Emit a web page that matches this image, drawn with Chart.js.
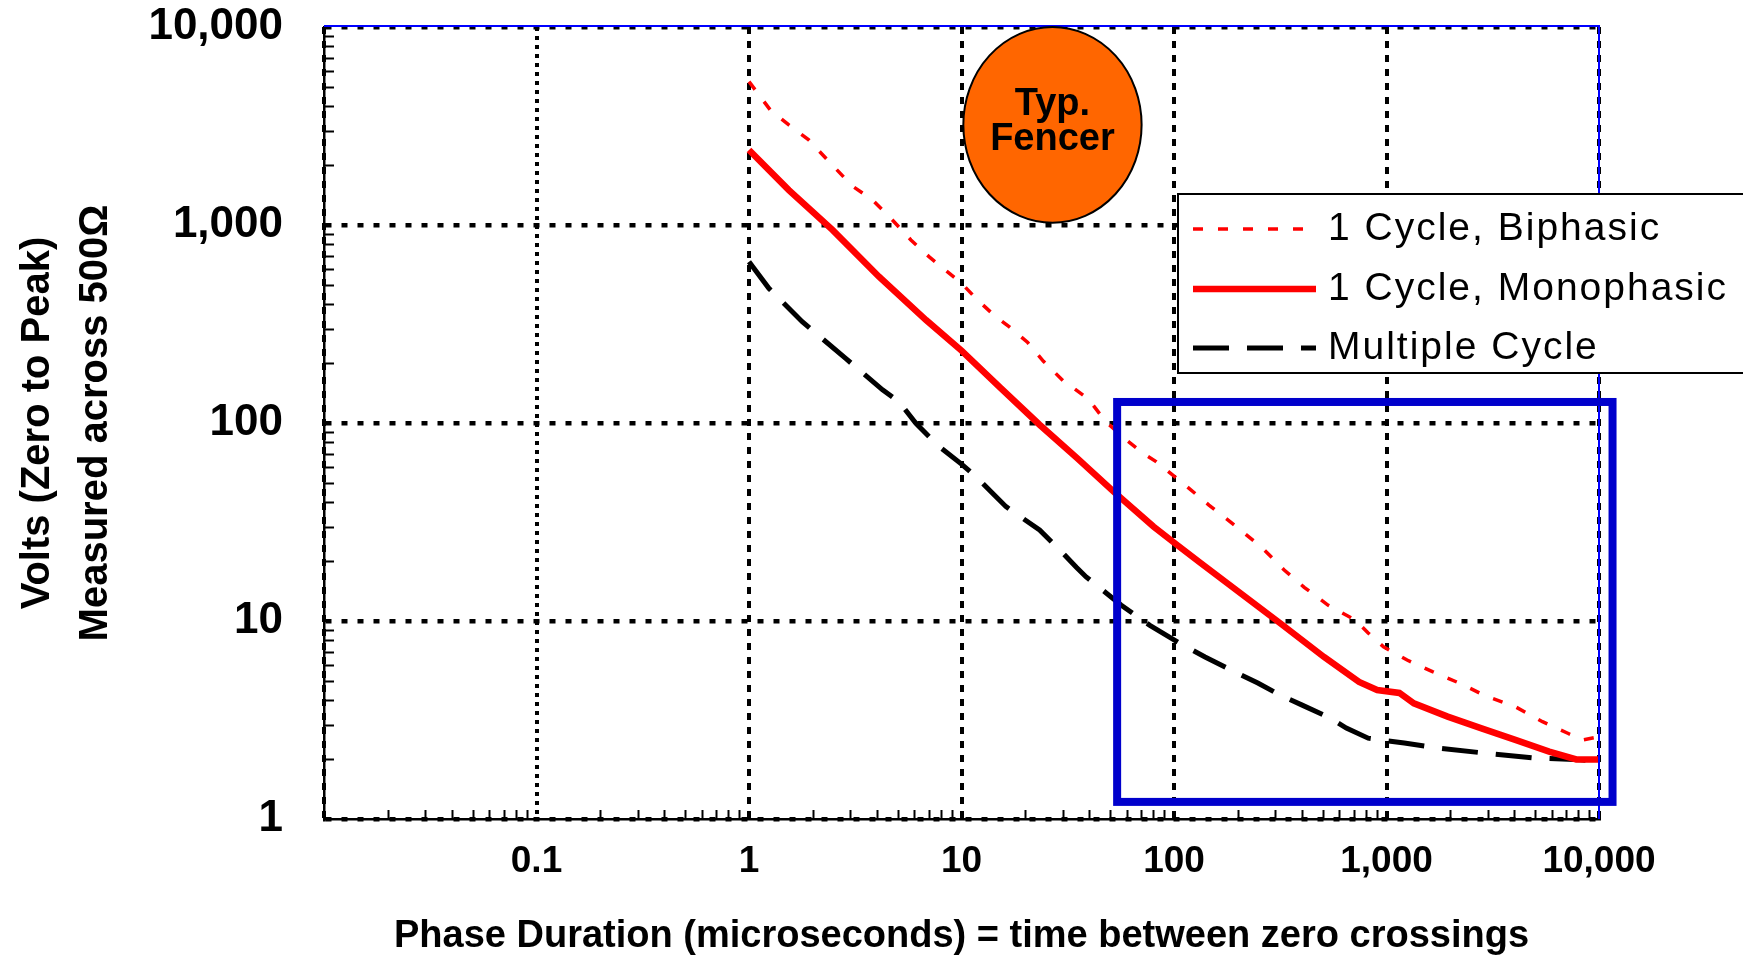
<!DOCTYPE html>
<html>
<head>
<meta charset="utf-8">
<script src="https://cdn.jsdelivr.net/npm/chart.js@4/dist/chart.umd.min.js"></script>
<style>
  html, body { margin: 0; padding: 0; background: #fff; }
  canvas { display: block; }
</style>
</head>
<body>
<canvas id="c" width="1743" height="959"></canvas>
<script>
// ---------------- data ----------------
const seriesLabels = ['1 Cycle, Biphasic', '1 Cycle, Monophasic', 'Multiple Cycle'];

const biphasicX = [1, 1.26, 1.54, 1.91, 2.38, 3.07, 3.81, 4.73, 5.78, 7.05, 8.77, 10, 11.9, 14.5, 16.8, 20.5, 24.3, 30, 39.3, 48, 59.7, 72, 82, 110, 146, 200, 260, 330, 410, 532, 713, 820, 968, 1250, 1645, 2208, 2906, 4040, 5420, 7130, 8410, 10000];
const biphasicY = [5300, 3810, 3200, 2690, 2090, 1570, 1340, 1060, 840, 690, 570, 508, 418, 344, 306, 255, 205, 164, 133, 101, 82, 70, 64, 49.7, 38.5, 29.5, 23.4, 18.1, 14.8, 12.0, 10.1, 8.7, 7.41, 6.35, 5.55, 4.85, 4.2, 3.69, 3.1, 2.71, 2.51, 2.6];

const monoX = [1, 1.54, 2.47, 4.09, 6.81, 10, 15.3, 23.3, 35, 52, 80, 102, 132, 177, 315, 508, 743, 904, 1150, 1345, 1940, 2800, 4040, 5830, 7820, 10000];
const monoY = [2390, 1500, 944, 548, 331, 232, 150, 98, 66.5, 45, 30, 24.5, 19.8, 15.6, 9.77, 6.58, 4.92, 4.48, 4.33, 3.84, 3.29, 2.87, 2.51, 2.19, 2.0, 2.0];

const multiX = [1, 1.24, 1.78, 2.85, 4.25, 5.08, 6.1, 7.86, 10, 11.7, 14, 16.2, 19.4, 23.3, 30, 34.7, 38.6, 47, 56.3, 77, 106, 140, 185, 248, 315, 401, 532, 647, 820, 1213, 1775, 3155, 5080, 8190, 10000];
const multiY = [653, 479, 325, 212, 147, 128, 99.6, 75.9, 62, 53.5, 44.2, 37.8, 33, 28.8, 22, 18.7, 16.7, 14.1, 12.05, 9.5, 7.74, 6.58, 5.66, 4.86, 4.23, 3.76, 3.27, 2.88, 2.56, 2.42, 2.28, 2.13, 2.03, 1.99, 1.96];

const xTickValues = [0.1, 1, 10, 100, 1000, 10000];
const xTickLabels = ['0.1', '1', '10', '100', '1,000', '10,000'];
const yTickValues = [1, 10, 100, 1000, 10000];
const yTickLabels = ['1', '10', '100', '1,000', '10,000'];

const xTitle = 'Phase Duration (microseconds) = time between zero crossings';
const yTitle = ['Volts (Zero to Peak)', 'Measured across 500Ω'];

const fencerText = ['Typ.', 'Fencer'];
// annotation extents in data units
const fencerX = [10.2, 70.4];
const fencerY = [1027, 10000];
const boxX = [54, 11580];
const boxY = [1.22, 127.7];

// ---------------- helpers ----------------
const FONT = "'Liberation Sans', Arial, Helvetica, sans-serif";
const zip = (xs, ys) => xs.map((x, i) => ({ x: x, y: ys[i] }));
const isMajorVal = v => Math.abs(Math.log10(v) - Math.round(Math.log10(v))) < 1e-6;
function labelFor(v, vals, labels) {
  for (let i = 0; i < vals.length; i++) {
    if (Math.abs(Math.log10(v) - Math.log10(vals[i])) < 1e-6) return labels[i];
  }
  return '';
}
function logTicks(min, max) {
  const out = [];
  for (let e = Math.floor(Math.log10(min)); e <= Math.ceil(Math.log10(max)); e++) {
    for (let k = 1; k <= 9; k++) {
      const v = parseFloat((k * Math.pow(10, e)).toPrecision(8));
      if (v >= min * 0.999999 && v <= max * 1.000001) out.push({ value: v, major: k === 1 });
    }
  }
  return out;
}

// ---------------- plugins ----------------
const whiteBg = {
  id: 'whiteBg',
  beforeDraw(chart) {
    const ctx = chart.ctx;
    ctx.save();
    ctx.fillStyle = '#fff';
    ctx.fillRect(0, 0, chart.width, chart.height);
    ctx.restore();
  }
};

const decorations = {
  id: 'decorations',
  afterDatasetsDraw(chart) {
    const ctx = chart.ctx;
    const xs = chart.scales.x, ys = chart.scales.y;
    const a = chart.chartArea;
    ctx.save();

    // inward minor ticks
    ctx.strokeStyle = '#000';
    ctx.lineWidth = 2;
    xs.ticks.forEach(t => {
      if (isMajorVal(t.value)) return;
      const px = Math.round(xs.getPixelForValue(t.value)) + 0.5;
      ctx.beginPath(); ctx.moveTo(px, a.bottom); ctx.lineTo(px, a.bottom - 9); ctx.stroke();
    });
    ys.ticks.forEach(t => {
      if (isMajorVal(t.value)) return;
      const py = Math.round(ys.getPixelForValue(t.value)) + 0.5;
      ctx.beginPath(); ctx.moveTo(a.left, py); ctx.lineTo(a.left + 10, py); ctx.stroke();
    });

    // thin blue frame on top and right
    ctx.strokeStyle = '#0000FF';
    ctx.lineWidth = 2;
    ctx.beginPath();
    ctx.moveTo(a.left, a.top - 1);
    ctx.lineTo(a.right, a.top - 1);
    ctx.lineTo(a.right, a.bottom);
    ctx.stroke();

    // highlight rectangle
    const bx1 = xs.getPixelForValue(boxX[0]), bx2 = xs.getPixelForValue(boxX[1]);
    const by1 = ys.getPixelForValue(boxY[1]), by2 = ys.getPixelForValue(boxY[0]);
    ctx.strokeStyle = '#0000CC';
    ctx.lineWidth = 8;
    ctx.strokeRect(bx1, by1, bx2 - bx1, by2 - by1);

    // fencer ellipse
    const ex1 = xs.getPixelForValue(fencerX[0]), ex2 = xs.getPixelForValue(fencerX[1]);
    const ey1 = ys.getPixelForValue(fencerY[1]), ey2 = ys.getPixelForValue(fencerY[0]);
    const cx = (ex1 + ex2) / 2, cy = (ey1 + ey2) / 2;
    ctx.beginPath();
    ctx.ellipse(cx, cy, (ex2 - ex1) / 2, (ey2 - ey1) / 2, 0, 0, Math.PI * 2);
    ctx.fillStyle = '#FF6600';
    ctx.fill();
    ctx.lineWidth = 2;
    ctx.strokeStyle = '#000';
    ctx.stroke();
    ctx.fillStyle = '#000';
    ctx.font = 'bold 38px ' + FONT;
    ctx.textAlign = 'center';
    ctx.textBaseline = 'middle';
    ctx.fillText(fencerText[0], cx, cy - 20);
    ctx.fillText(fencerText[1], cx, cy + 15);

    // legend box (overlaid)
    const lx = 1178, ly = 194, lh = 179;
    ctx.fillStyle = '#fff';
    ctx.fillRect(lx, ly, chart.width - lx + 10, lh);
    ctx.strokeStyle = '#000';
    ctx.lineWidth = 2;
    ctx.strokeRect(lx, ly, chart.width - lx + 10, lh);
    const rows = [229, 289, 348];
    chart.data.datasets.forEach((ds, i) => {
      const y = rows[i];
      ctx.save();
      ctx.strokeStyle = ds.borderColor;
      ctx.lineWidth = ds.borderWidth;
      ctx.setLineDash(ds.borderDash || []);
      ctx.beginPath();
      ctx.moveTo(1193, y);
      ctx.lineTo(1316, y);
      ctx.stroke();
      ctx.restore();
      ctx.save();
      ctx.fillStyle = '#000';
      ctx.font = '39px ' + FONT;
      try { ctx.letterSpacing = '2px'; } catch (e) {}
      ctx.textAlign = 'left';
      ctx.textBaseline = 'middle';
      ctx.fillText(ds.label, 1328, y);
      ctx.restore();
    });

    ctx.restore();
  }
};

// ---------------- chart ----------------
const gridColor = c => (c.tick && isMajorVal(c.tick.value)) ? '#000' : 'rgba(0,0,0,0)';

new Chart(document.getElementById('c'), {
  type: 'line',
  data: {
    datasets: [
      {
        label: seriesLabels[0],
        data: zip(biphasicX, biphasicY),
        borderColor: '#FF0000',
        borderWidth: 3.5,
        borderDash: [10, 15],
        pointRadius: 0,
        tension: 0,
        fill: false
      },
      {
        label: seriesLabels[1],
        data: zip(monoX, monoY),
        borderColor: '#FF0000',
        borderWidth: 6.5,
        pointRadius: 0,
        tension: 0,
        fill: false
      },
      {
        label: seriesLabels[2],
        data: zip(multiX, multiY),
        borderColor: '#000000',
        borderWidth: 5,
        borderDash: [36, 18],
        pointRadius: 0,
        tension: 0,
        fill: false
      }
    ]
  },
  options: {
    responsive: false,
    animation: false,
    devicePixelRatio: 1,
    layout: { padding: { top: 27, right: 144, left: 0, bottom: 0 } },
    plugins: {
      legend: { display: false },
      tooltip: { enabled: false }
    },
    scales: {
      x: {
        type: 'logarithmic',
        min: 0.01,
        max: 10000,
        afterBuildTicks: s => { s.ticks = logTicks(s.min, s.max); },
        afterFit: s => { s.height = 140; s.paddingLeft = 0; s.paddingRight = 0; },
        grid: {
          drawTicks: false,
          color: gridColor,
          lineWidth: c => (c.tick && isMajorVal(c.tick.value)) ? 4 : 0
        },
        border: {
          display: true,
          color: '#000',
          width: 2.5,
          dash: c => (c.tick && Math.abs(c.tick.value - 0.1) < 1e-9) ? [4, 5] : [7, 7]
        },
        ticks: {
          autoSkip: false,
          maxRotation: 0,
          minRotation: 0,
          padding: 21,
          color: '#000',
          font: { family: FONT, size: 37, weight: 'bold' },
          callback: v => labelFor(v, xTickValues, xTickLabels)
        },
        title: {
          display: true,
          text: xTitle,
          color: '#000',
          font: { family: FONT, size: 38, weight: 'bold', lineHeight: 1.2 },
          padding: { top: 0, bottom: 0 }
        }
      },
      y: {
        type: 'logarithmic',
        min: 1,
        max: 10000,
        afterBuildTicks: s => { s.ticks = logTicks(s.min, s.max); },
        afterFit: s => { s.width = 324; s.paddingTop = 0; s.paddingBottom = 0; },
        grid: {
          drawTicks: false,
          color: gridColor,
          lineWidth: c => (c.tick && isMajorVal(c.tick.value)) ? 4.5 : 0
        },
        border: {
          display: true,
          color: '#000',
          width: 2.5,
          dash: [6, 10]
        },
        ticks: {
          autoSkip: false,
          padding: 41,
          color: '#000',
          font: { family: FONT, size: 44, weight: 'bold' },
          callback: v => labelFor(v, yTickValues, yTickLabels)
        },
        title: {
          display: true,
          text: yTitle,
          color: '#000',
          font: { family: FONT, size: 40, weight: 'bold', lineHeight: 1.45 },
          padding: { top: 9, bottom: 0 }
        }
      }
    }
  },
  plugins: [whiteBg, decorations]
});
</script>
</body>
</html>
